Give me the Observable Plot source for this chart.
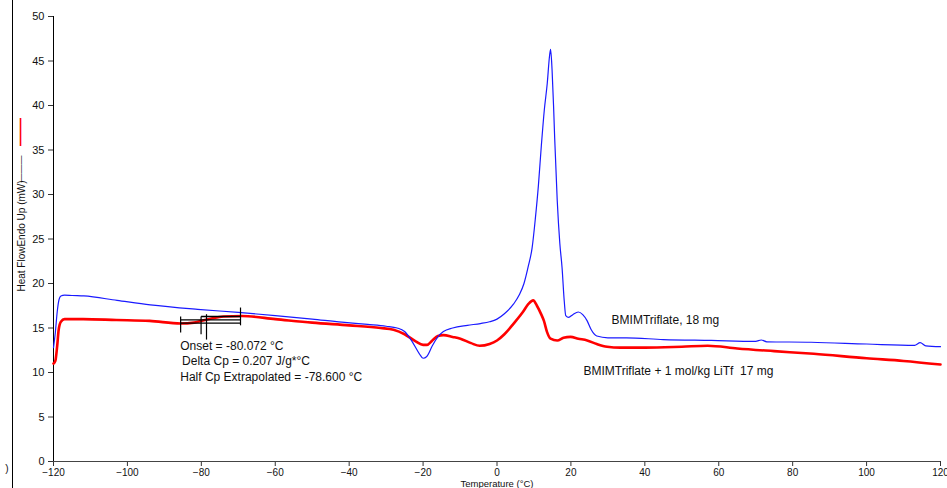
<!DOCTYPE html>
<html>
<head>
<meta charset="utf-8">
<script src="https://cdn.jsdelivr.net/npm/d3@7"></script>
<script src="https://cdn.jsdelivr.net/npm/@observablehq/plot@0.6"></script>
<style>
  html, body { margin: 0; padding: 0; background: #fff; }
  #chart { position: relative; width: 947px; height: 488px; }
  svg { font-family: "Liberation Sans", Arial, sans-serif; }
</style>
</head>
<body>
<div id="chart"></div>
<script>
// ---- Data ----
const xTicks = [-120, -100, -80, -60, -40, -20, 0, 20, 40, 60, 80, 100, 120];
const yTicks = [0, 5, 10, 15, 20, 25, 30, 35, 40, 45, 50];

// BMIMTriflate, 18 mg (blue)
const blueT = [-120, -119.5, -119, -118.5, -118, -117, -115, -111.8, -102.8, -93.8, -81, -70, -60, -50, -42, -35, -30, -27,
  -25, -23, -21, -20, -19, -17.5, -16, -14.5, -12, -8, -4.5, -2, 0, 2, 4.5, 6, 7.3, 8.5, 9.5, 10.4, 11.2, 12, 12.8, 13.6, 14.2, 14.5,
  14.9, 15.3, 15.6, 16.3, 17, 17.6, 18.2, 18.6, 19.4, 20.5, 22, 23.2, 24.4, 25.5, 27, 30, 35, 45, 58, 70, 71.5, 73, 85, 100, 113, 114.5, 116, 120];
const blueQ = [12.8, 14.5, 16.8, 18.2, 18.6, 18.7, 18.65, 18.6, 18.1, 17.6, 17.1, 16.75, 16.4, 16.0, 15.65, 15.4, 15.2, 15.0,
  14.6, 13.5, 12.1, 11.6, 11.8, 13.0, 14.0, 14.6, 15.0, 15.3, 15.5, 15.7, 16.0, 16.6, 17.7, 18.7, 20.0, 22.0, 24.0, 27.4, 31.0, 35.5, 39.5, 42.5, 45.5, 46.3,
  44.0, 40.0, 36.4, 29.3, 24.5, 21.8, 18.0, 16.4, 16.2, 16.5, 16.8, 16.5, 15.8, 14.8, 14.1, 13.9, 13.9, 13.7, 13.6, 13.5, 13.65, 13.45, 13.4, 13.2, 13.05, 13.35, 13.0, 12.9];

// BMIMTriflate + 1 mol/kg LiTf 17 mg (red)
const redT = [-120, -119.5, -119, -118.6, -118, -117, -112, -103, -94, -85.6, -82, -80, -77, -74, -69, -60, -50, -40, -31.5, -28,
  -25, -22, -20, -19, -17.5, -16, -14.5, -12, -9.9, -7, -4.7, -2, 0, 2, 4.5, 7, 8.5, 9.8, 10.8, 12, 12.7, 13.5, 14.5, 16.3, 18, 19.9,
  22, 24.4, 27, 29.8, 33.4, 40, 50, 57, 65, 75, 85.7, 100, 110, 120];
const redQ = [11.0, 11.3, 13.0, 14.8, 15.7, 16.0, 16.0, 15.9, 15.8, 15.5, 15.6, 15.8, 16.1, 16.3, 16.35, 16.0, 15.6, 15.3, 15.0, 14.8,
  14.3, 13.5, 13.1, 13.1, 13.6, 14.1, 14.2, 14.0, 13.8, 13.3, 13.0, 13.2, 13.6, 14.3, 15.5, 16.8, 17.7, 18.1, 17.5, 16.5, 15.8, 14.6, 13.8, 13.6, 13.9, 14.0,
  13.8, 13.6, 13.2, 12.9, 12.8, 12.8, 12.9, 13.0, 12.7, 12.4, 12.1, 11.6, 11.3, 10.9];

// Glass-transition analysis marks
const gtTickT  = [-85.6, -80.07, -78.6, -69.4];
const gtTickLo = [14.5, 14.3, 13.7, 15.3];
const gtTickHi = [16.3, 16.3, 16.55, 17.3];
const gtLineY  = [15.54, 15.92, 16.29];
const gtLineT1 = [-85.6, -85.6, -80.07];
const gtLineT2 = [-69.4, -69.4, -69.4];

const gtText = ["Onset = -80.072 °C", "Delta Cp = 0.207 J/g*°C", "Half Cp Extrapolated = -78.600 °C"];
const gtTextT = [-85.7, -85.2, -85.7];
const gtTextQ = [13.0, 11.3, 9.5];

const seriesLabels = ["BMIMTriflate, 18 mg", "BMIMTriflate + 1 mol/kg LiTf  17 mg"];
const seriesLabelT = [31.0, 23.4];
const seriesLabelQ = [15.85, 10.2];

// ---- Build tables ----
const blue = blueT.map((t, i) => ({t, q: blueQ[i]}));
const red = redT.map((t, i) => ({t, q: redQ[i]}));
const ticks = gtTickT.map((t, i) => ({t, lo: gtTickLo[i], hi: gtTickHi[i]}));
const hlines = gtLineY.map((q, i) => ({q, t1: gtLineT1[i], t2: gtLineT2[i]}));
const notes = gtText.map((s, i) => ({s, t: gtTextT[i], q: gtTextQ[i]}));
const labels = seriesLabels.map((s, i) => ({s, t: seriesLabelT[i], q: seriesLabelQ[i]}));

const chart = Plot.plot({
  width: 947,
  height: 488,
  marginLeft: 53,
  marginRight: 7,
  marginTop: 16,
  marginBottom: 27,
  style: {fontFamily: "Liberation Sans, Arial, sans-serif", background: "#fff"},
  x: {domain: [-120, 120]},
  y: {domain: [0, 50]},
  marks: [
    Plot.axisX({ticks: xTicks, tickSize: 5, tickPadding: 2, label: null, fontSize: 10, fill: "#111", stroke: "#333"}),
    Plot.axisY({ticks: yTicks, tickSize: 5, tickPadding: 4, label: null, fontSize: 11, fill: "#111", stroke: "#333"}),
    Plot.ruleX([-120], {stroke: "#000"}),
    Plot.ruleY([0], {stroke: "#444"}),
    Plot.text(["Temperature (°C)"], {frameAnchor: "bottom", lineAnchor: "middle", dy: 22, fontSize: 9.5, fill: "#111"}),
    Plot.text(["Heat FlowEndo Up (mW)"], {frameAnchor: "left", textAnchor: "middle", dx: -32, dy: -3, rotate: -90, fontSize: 10, fill: "#111"}),
    Plot.text(["———"], {frameAnchor: "left", textAnchor: "middle", dx: -32, dy: -70, rotate: -90, fontSize: 9, fill: "#111"}),
    Plot.text(["——"], {frameAnchor: "left", textAnchor: "middle", dx: -33, dy: -107, rotate: -90, fontSize: 14, fontWeight: "bold", fill: "#ff0000"}),
    Plot.line(red, {x: "t", y: "q", stroke: "#ff0000", strokeWidth: 2.6, curve: "monotone-x"}),
    Plot.line(blue, {x: "t", y: "q", stroke: "#1a1aff", strokeWidth: 1.2, curve: "monotone-x"}),
    Plot.link(hlines, {x1: "t1", x2: "t2", y1: "q", y2: "q", stroke: "#000", strokeWidth: 1.3}),
    Plot.link(ticks, {x1: "t", x2: "t", y1: "lo", y2: "hi", stroke: "#000", strokeWidth: 1.2}),
    Plot.text(notes, {x: "t", y: "q", text: "s", textAnchor: "start", fontSize: 12, fill: "#111"}),
    Plot.text(labels, {x: "t", y: "q", text: "s", textAnchor: "start", fontSize: 12, fill: "#111"})
  ]
});

document.getElementById("chart").appendChild(chart);

// frame decorations outside the plot area
const svg = d3.select(chart);
svg.append("line").attr("x1", 12.5).attr("x2", 12.5).attr("y1", 0).attr("y2", 488).attr("stroke", "#000").attr("stroke-width", 1);
svg.append("text").attr("x", 7).attr("y", 472).attr("font-size", 10).attr("fill", "#111").text(")");
</script>
</body>
</html>
